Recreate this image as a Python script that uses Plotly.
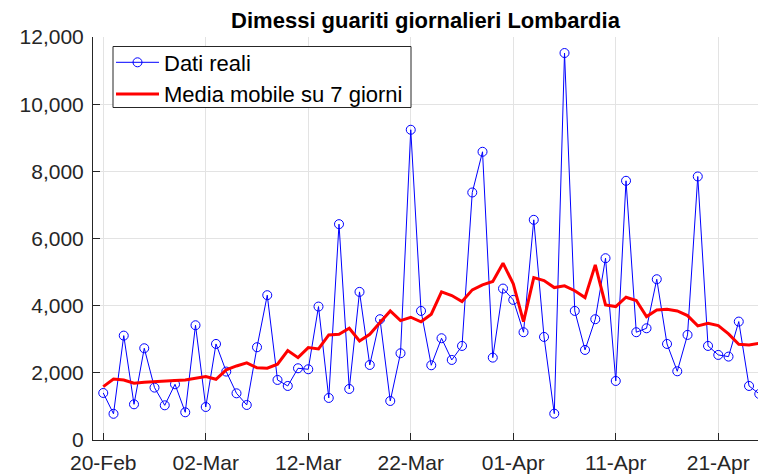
import plotly.graph_objects as go
import pandas as pd

# Dates (2021), daily
dates = pd.date_range("2021-02-20", "2021-04-25", freq="D").strftime("%Y-%m-%d").tolist()

# Daily recovered (Dati reali)
dati_reali = [
    1400, 780, 3108, 1063, 2732, 1560, 1033, 1659, 825,           # 20-28 Feb
    3417, 983, 2860, 2037, 1390, 1043, 2762, 4312, 1788, 1609,     # 1-10 Mar
    2136, 2106, 3973, 1252, 6427, 1520, 4410, 2235, 3596, 1162,    # 11-20 Mar
    2583, 9238, 3844, 2225, 3030, 2384, 2801, 7370, 8582, 2453,    # 21-30 Mar
    4509,                                                          # 31 Mar
    4172, 3209, 6556, 3069, 784, 11523, 3844, 2682, 3596, 5413,    # 1-10 Apr
    1758, 7718, 3209, 3327, 4787, 2860, 2046, 3129, 7847, 2801,    # 11-20 Apr
    2533, 2483, 3526, 1609, 1371,                                  # 21-25 Apr
]

# 7-day moving average (Media mobile su 7 giorni)
media_mobile = [
    1589, 1818, 1788, 1689, 1719, 1728, 1758, 1768, 1788,
    1838, 1887, 1808, 2090, 2205, 2295, 2150, 2136, 2255, 2662,
    2453, 2751, 2712, 3129, 3149, 3327, 2950, 3149, 3496, 3844,
    3556, 3655, 3520, 3745, 4410, 4301, 4122, 4470, 4619, 4718,
    5265,
    4649, 3526, 4837, 4748, 4539, 4589, 4445, 4240, 5215, 4023,
    3973, 4251, 4152, 3675, 3874, 3894, 3844, 3705, 3397, 3477,
    3407, 3159, 2851, 2831, 2881,
]

x_ticks_start = "2021-02-20"
x_range = ["2021-02-19 00:00", "2021-04-24 21:00"]
y_range = [0, 12000]

FONT = "Liberation Sans, Arial, Helvetica, sans-serif"
DARK = "#262626"
GRID = "#e3e3e3"

W, H = 758, 475
ML, MR, MT, MB = 93, 0, 37, 35
PW, PH = W - ML - MR, H - MT - MB


def px_to_paper_x(px):
    return (px - ML) / PW


def px_to_paper_y(py):
    return (H - MB - py) / PH


fig = go.Figure()
fig.add_trace(go.Scatter(
    x=dates, y=dati_reali, mode="lines+markers", name="Dati reali",
    line=dict(color="#0000ff", width=1),
    marker=dict(symbol="circle-open", size=9, color="#0000ff", line=dict(width=1)),
))
fig.add_trace(go.Scatter(
    x=dates, y=media_mobile, mode="lines", name="Media mobile su 7 giorni",
    line=dict(color="#ff0000", width=3),
))

# legend frame (white box with dark border), legend entries drawn on top of it
fig.add_shape(type="rect", xref="paper", yref="paper", layer="above",
              x0=px_to_paper_x(113), x1=px_to_paper_x(411),
              y0=px_to_paper_y(107.5), y1=px_to_paper_y(46.5),
              fillcolor="white", line=dict(color=DARK, width=1))

fig.update_layout(
    width=W, height=H,
    margin=dict(l=ML, r=MR, t=MT, b=MB),
    paper_bgcolor="white", plot_bgcolor="white",
    font=dict(family=FONT, size=21, color=DARK),
    title=dict(text="<b>Dimessi guariti giornalieri Lombardia</b>",
               x=0.5, xref="paper", xanchor="center",
               y=1 - 20 / H, yref="container", yanchor="middle",
               font=dict(family=FONT, size=22, color="black")),
    showlegend=True,
    legend=dict(x=px_to_paper_x(111), y=px_to_paper_y(41.5), xanchor="left", yanchor="top",
                bgcolor="rgba(0,0,0,0)", borderwidth=0,
                font=dict(family=FONT, size=22, color="black"),
                itemwidth=43, tracegroupgap=0),
)
fig.update_xaxes(
    type="date", range=x_range,
    tick0=x_ticks_start, dtick=10 * 86400000, tickformat="%d-%b",
    ticks="inside", ticklen=7, tickcolor=DARK,
    showline=True, linecolor=DARK, linewidth=1,
    showgrid=True, gridcolor=GRID, gridwidth=1,
    zeroline=False, ticklabelstandoff=4,
    tickfont=dict(family=FONT, size=21, color=DARK),
)
fig.update_yaxes(
    range=y_range, tick0=0, dtick=2000, tickformat=",d",
    ticks="inside", ticklen=7, tickcolor=DARK,
    showline=True, linecolor=DARK, linewidth=1,
    showgrid=True, gridcolor=GRID, gridwidth=1,
    zeroline=False, ticklabelstandoff=4,
    tickfont=dict(family=FONT, size=21, color=DARK),
)

fig.write_html("out.html",
               config={"displayModeBar": False},
               post_script="document.body.style.margin='0';document.body.style.overflow='hidden';")
